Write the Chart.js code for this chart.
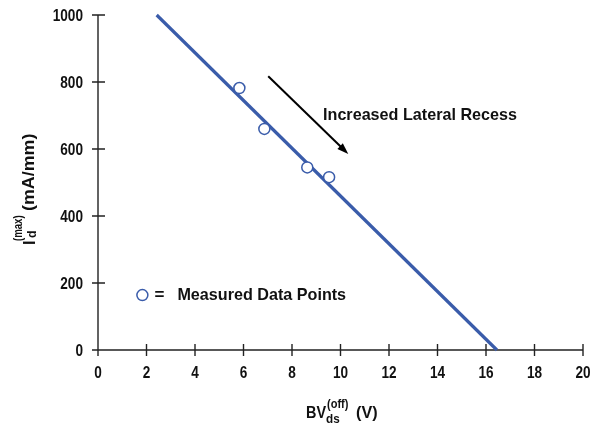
<!DOCTYPE html>
<html>
<head>
<meta charset="utf-8">
<script src="https://cdn.jsdelivr.net/npm/chart.js@4/dist/chart.umd.min.js"></script>
<style>
  html, body { margin: 0; padding: 0; background: #fff; }
  #wrap { width: 594px; height: 425px; }
</style>
</head>
<body>
<div id="wrap"><canvas id="chart" width="594" height="425"></canvas></div>
<script>
// straight-line fit through the measurements
const fitX = [2.42, 16.45];
const fitY = [1000, 0];
// measured devices
const measuredX = [5.83, 6.86, 8.63, 9.53];
const measuredY = [782, 660, 545, 516];

const xTicks = [0, 2, 4, 6, 8, 10, 12, 14, 16, 18, 20];
const yTicks = [0, 200, 400, 600, 800, 1000];

const arrowFrom = [7.02, 817];
const arrowTo = [10.32, 585];
const noteText = "Increased Lateral Recess";
const notePos = [9.28, 687];
const legendText = "Measured Data Points";
const legendPos = [1.83, 164];

const FONT = '"Liberation Sans", Arial, sans-serif';
const BLUE = "#3a5caa";
const INK = "#111";

// text drawn slightly squeezed sideways to get a condensed look
function drawText(ctx, str, x, y, size, squeeze, align) {
  ctx.save();
  ctx.font = "bold " + size + "px " + FONT;
  ctx.textAlign = align || "left";
  ctx.textBaseline = "alphabetic";
  ctx.translate(x, y);
  ctx.scale(squeeze, 1);
  ctx.fillText(str, 0, 0);
  const w = ctx.measureText(str).width * squeeze;
  ctx.restore();
  return w;
}

const extras = {
  id: "extras",
  beforeDatasetsDraw(chart) {
    const ctx = chart.ctx;
    const xs = chart.scales.x, ys = chart.scales.y;
    const x0 = xs.getPixelForValue(0), y0 = ys.getPixelForValue(0);
    ctx.save();
    ctx.strokeStyle = "#222";
    ctx.lineWidth = 1.4;
    ctx.beginPath();
    ctx.moveTo(x0, ys.getPixelForValue(1000));
    ctx.lineTo(x0, y0);
    ctx.moveTo(x0 - 6, y0);
    ctx.lineTo(xs.getPixelForValue(20), y0);
    yTicks.forEach(v => {
      const py = ys.getPixelForValue(v);
      ctx.moveTo(x0 - 6, py);
      ctx.lineTo(x0 + 7, py);
    });
    xTicks.forEach(v => {
      const px = xs.getPixelForValue(v);
      ctx.moveTo(px, y0 - 6);
      ctx.lineTo(px, y0 + 6);
    });
    ctx.stroke();
    ctx.restore();
  },
  afterDraw(chart) {
    const ctx = chart.ctx;
    const xs = chart.scales.x, ys = chart.scales.y;
    const x0 = xs.getPixelForValue(0), y0 = ys.getPixelForValue(0);
    ctx.save();
    ctx.fillStyle = INK;

    // tick labels
    yTicks.forEach(v => drawText(ctx, String(v), x0 - 15, ys.getPixelForValue(v) + 6, 17, 0.8, "right"));
    xTicks.forEach(v => drawText(ctx, String(v), xs.getPixelForValue(v), y0 + 27.5, 17, 0.8, "center"));

    // x axis title
    drawText(ctx, "BV", 306, 418, 17, 0.85);
    drawText(ctx, "ds", 326, 422.5, 13, 0.9);
    drawText(ctx, "(off)", 327, 408, 13, 0.85);
    drawText(ctx, "(V)", 356, 418, 17, 0.95);

    // y axis title, rotated to read upwards
    ctx.save();
    ctx.translate(35, 0);
    ctx.rotate(-Math.PI / 2);
    drawText(ctx, "I", -245, 0, 17, 0.95);
    drawText(ctx, "d", -238, 1, 13, 0.95);
    drawText(ctx, "(max)", -241, -13, 12, 0.8);
    drawText(ctx, "(mA/mm)", -211, -1, 17, 1.05);
    ctx.restore();

    // note and arrow
    drawText(ctx, noteText, xs.getPixelForValue(notePos[0]), ys.getPixelForValue(notePos[1]), 17, 0.95);
    const ax = xs.getPixelForValue(arrowFrom[0]), ay = ys.getPixelForValue(arrowFrom[1]);
    const bx = xs.getPixelForValue(arrowTo[0]), by = ys.getPixelForValue(arrowTo[1]);
    const ang = Math.atan2(by - ay, bx - ax);
    const head = 12;
    ctx.strokeStyle = "#000";
    ctx.lineWidth = 2;
    ctx.beginPath();
    ctx.moveTo(ax, ay);
    ctx.lineTo(bx - Math.cos(ang) * head * 0.8, by - Math.sin(ang) * head * 0.8);
    ctx.stroke();
    ctx.fillStyle = "#000";
    ctx.beginPath();
    ctx.moveTo(bx, by);
    ctx.lineTo(bx - head * Math.cos(ang - 0.33), by - head * Math.sin(ang - 0.33));
    ctx.lineTo(bx - head * Math.cos(ang + 0.33), by - head * Math.sin(ang + 0.33));
    ctx.closePath();
    ctx.fill();

    // legend symbol
    const lx = xs.getPixelForValue(legendPos[0]), ly = ys.getPixelForValue(legendPos[1]);
    ctx.strokeStyle = BLUE;
    ctx.lineWidth = 1.5;
    ctx.fillStyle = "#fff";
    ctx.beginPath();
    ctx.arc(lx, ly, 5.5, 0, Math.PI * 2);
    ctx.fill();
    ctx.stroke();
    ctx.fillStyle = INK;
    drawText(ctx, "=", lx + 12, ly + 5, 17, 1);
    drawText(ctx, legendText, lx + 35, ly + 5, 17, 0.95);
    ctx.restore();
  }
};

new Chart(document.getElementById("chart"), {
  type: "scatter",
  data: {
    datasets: [
      {
        label: "Fit",
        data: fitX.map((x, i) => ({ x: x, y: fitY[i] })),
        showLine: true,
        borderColor: BLUE,
        borderWidth: 3.2,
        pointRadius: 0,
        clip: false,
        order: 2
      },
      {
        label: "Measured",
        data: measuredX.map((x, i) => ({ x: x, y: measuredY[i] })),
        pointRadius: 5.5,
        pointBorderWidth: 1.5,
        pointBorderColor: BLUE,
        pointBackgroundColor: "#fff",
        order: 1
      }
    ]
  },
  options: {
    responsive: false,
    devicePixelRatio: 1,
    animation: false,
    layout: { padding: { top: 15, right: 11, left: 0, bottom: 0 } },
    plugins: { legend: { display: false }, tooltip: { enabled: false } },
    scales: {
      x: {
        type: "linear",
        min: 0,
        max: 20,
        afterBuildTicks: s => { s.ticks = xTicks.map(v => ({ value: v })); },
        afterFit: s => { s.height = 75; s.paddingLeft = 0; s.paddingRight = 0; },
        grid: { display: false, drawTicks: false },
        border: { display: false },
        ticks: { display: false }
      },
      y: {
        type: "linear",
        min: 0,
        max: 1000,
        afterBuildTicks: s => { s.ticks = yTicks.map(v => ({ value: v })); },
        afterFit: s => { s.width = 98; s.paddingTop = 0; s.paddingBottom = 0; },
        grid: { display: false, drawTicks: false },
        border: { display: false },
        ticks: { display: false }
      }
    }
  },
  plugins: [extras]
});
</script>
</body>
</html>
